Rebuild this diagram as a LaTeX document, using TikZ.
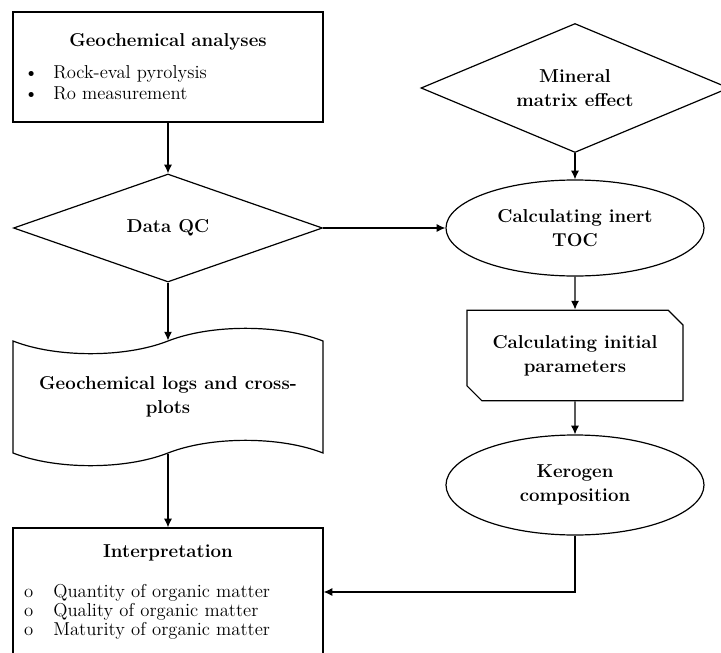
\documentclass[tikz,border=0pt]{standalone}
\usepackage{tikz}
\usetikzlibrary{shapes.geometric, shapes.symbols, shapes.misc, arrows.meta, calc}
\newcommand{\blt}[1]{\makebox[22pt][l]{\textbullet}#1}
\newcommand{\circitem}[1]{\makebox[22pt][l]{o}#1}

\begin{document}
\begin{tikzpicture}[
	x=0.75pt, y=-0.75pt,
	every node/.style={font=\fontsize{14}{18}\selectfont},
	box/.style={draw, line width=0.9pt, rectangle, minimum width=232.5pt, inner xsep=8pt, text width=216pt},
	label/.style={align=center, font=\fontsize{14}{18}\selectfont\bfseries},
	decision/.style={draw, line width=0.9pt, diamond, inner sep=0pt, shape aspect=2.8, label},
	process/.style={draw, line width=0.9pt, ellipse, inner sep=0pt, minimum width=193.5pt, label},
	card/.style={draw, line width=0.9pt, chamfered rectangle, chamfered rectangle corners={north east, south west}, chamfered rectangle xsep=5.6pt, chamfered rectangle ysep=5.6pt, inner sep=0pt, minimum width=162pt, minimum height=68pt, label},
	logs/.style={draw, line width=0.9pt, tape, tape bend height=19pt, inner sep=0pt, minimum width=232.5pt, minimum height=103pt, label},
	arrow/.style={line width=0.9pt, -{Latex[length=6.5pt, width=6pt]}}
	]
	
	\useasboundingbox (0,0) rectangle (721,653);
	
	% Left column
	\node [box, minimum height=82.5pt, font=\fontsize{14}{15.75}\selectfont] (ana) at (168,67) {%
		{\centering\textbf{Geochemical analyses}\par}\vspace{8pt}
		\blt{Rock-eval pyrolysis}\\
		\blt{Ro measurement}};
	\node [decision, minimum width=231.75pt, minimum height=81pt] (qc) at (168,228) {Data QC};
	\node [logs] (logs) at (168,397) {Geochemical logs and cross-\\plots};
	\node [box, minimum height=96pt, font=\fontsize{14}{14}\selectfont] (interp) at (168,592) {%
		{\centering\textbf{Interpretation}\par}\vspace{16pt}
		\circitem{Quantity of organic matter}\\
		\circitem{Quality of organic matter}\\
		\circitem{Maturity of organic matter}};
	
	% Right column
	\node [decision, minimum width=231pt, minimum height=96.75pt] (mineral) at (575,88) {Mineral\\matrix effect};
	\node [process, minimum height=72pt] (toc) at (575,228) {Calculating inert\\TOC};
	\node [card] (init) at (575,355.5) {Calculating initial\\parameters};
	\node [process, minimum height=75pt] (kero) at (575,485) {Kerogen\\composition};
	
	% Connectors
	\draw [arrow] (ana) -- (qc);
	\draw [arrow] (qc) -- (logs.north);
	\draw [arrow] (logs.south) -- (interp);
	\draw [arrow] (qc.east) -- (toc.west);
	\draw [arrow] (mineral) -- (toc);
	\draw [arrow] (toc) -- (init);
	\draw [arrow] (init) -- (kero);
	\draw [arrow] (kero.south) |- (interp.east);
\end{tikzpicture}
\end{document}
